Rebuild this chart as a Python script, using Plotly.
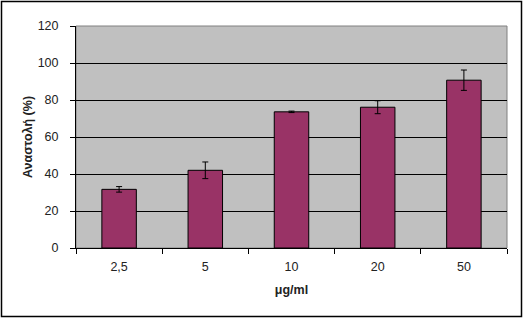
import plotly.graph_objects as go

categories = ["2,5", "5", "10", "20", "50"]
values = [31.7, 42.0, 73.6, 76.1, 90.7]
errors = [1.5, 4.5, 0.4, 3.5, 5.5]
y_ticks = [0, 20, 40, 60, 80, 100, 120]

W, H = 529, 318
L, R, T, B = 76, 22, 26, 70
pw, ph = W - L - R, H - T - B

fig = go.Figure()
fig.add_trace(go.Bar(
    x=categories, y=values,
    marker=dict(color="#993366", line=dict(color="black", width=1)),
    error_y=dict(type="data", array=errors, visible=True, color="black",
                 thickness=1, width=3),
    width=0.4,
))

font = dict(family="Arial, Liberation Sans, sans-serif", size=12, color="#222")
fig.update_layout(
    width=W, height=H,
    margin=dict(l=L, r=R, t=T, b=B),
    paper_bgcolor="white", plot_bgcolor="#C0C0C0",
    showlegend=False, font=font,
    xaxis=dict(
        type="category", tickson="boundaries", ticks="outside", ticklen=5,
        tickcolor="black", showline=True, linecolor="black", linewidth=1,
        showgrid=False, tickfont=dict(size=12.5, color="#222"), ticklabelstandoff=7,
        title=dict(text="<b>μg/ml</b>", font=dict(size=12.5, color="#222"), standoff=12),
    ),
    yaxis=dict(
        range=[0, 120], tickvals=y_ticks, ticks="outside", ticklen=5,
        tickcolor="black", showline=True, linecolor="black", linewidth=1,
        showgrid=True, gridcolor="black", gridwidth=1, zeroline=False,
        tickfont=dict(size=12.5, color="#222"), ticklabelstandoff=9,
        title=dict(text="<b>Αναστολή (%)</b>", font=dict(size=12.5, color="#222"), standoff=2),
    ),
    shapes=[
        dict(type="rect", xref="paper", yref="paper", x0=0, x1=1, y0=0, y1=1,
             line=dict(color="#808080", width=1), layer="below"),
        dict(type="rect", xref="paper", yref="paper",
             x0=(1.5 - L) / pw, x1=(521.5 - L) / pw,
             y0=(H - B - 316.5) / ph, y1=(H - B - 1.5) / ph,
             line=dict(color="black", width=1.5)),
    ],
)
fig.write_html("out.html")
